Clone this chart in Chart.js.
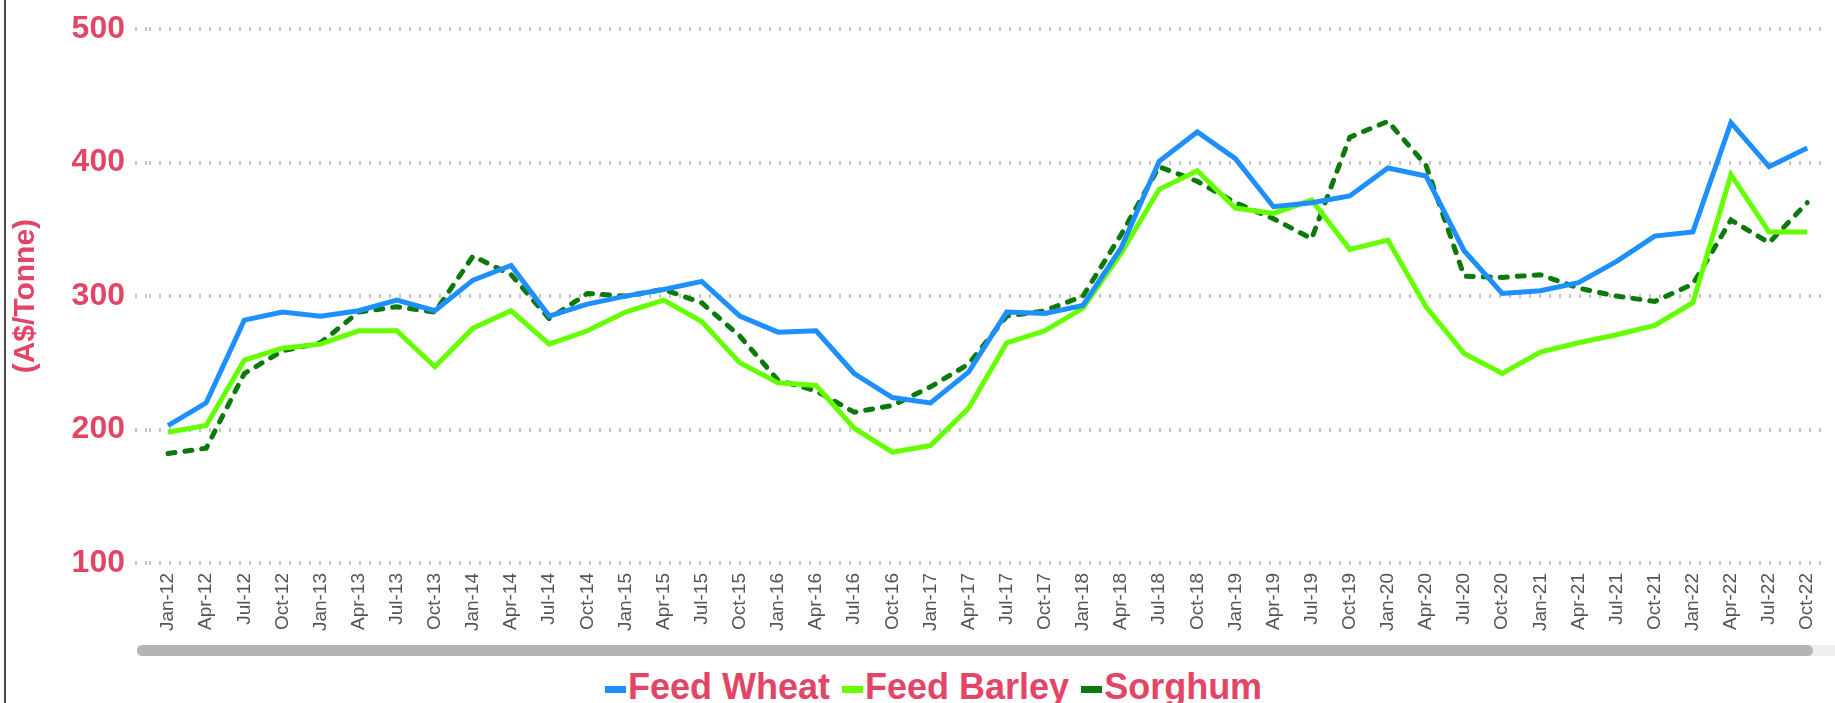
<!DOCTYPE html>
<html>
<head>
<meta charset="utf-8">
<script src="https://cdn.jsdelivr.net/npm/chart.js@4.4.1/dist/chart.umd.min.js"></script>
<style>
    html, body { margin: 0; padding: 0; background: #fff; overflow: hidden; }
    #page { position: relative; width: 1835px; height: 703px; overflow: hidden; }
    #edge { position: absolute; left: 4px; top: 0; width: 2px; height: 703px; background: #4a4a4a; }
    #chart-wrap { position: absolute; left: 0; top: 0; width: 1840px; height: 640px; }
    #track { position: absolute; left: 137px; top: 645px; width: 1700px; height: 11px; background: #efefef; }
    #thumb { position: absolute; left: 137px; top: 645px; width: 1676px; height: 11px; background: #b4b4b4; border-radius: 6px; }
    #legend { position: absolute; left: 605px; top: 666px; white-space: nowrap; line-height: 42px;
        font: bold 36px "Liberation Sans", Arial, sans-serif; color: #e24565; }
    #legend span.item { margin-right: 12px; }
    #legend i { display: inline-block; width: 21px; height: 7px; margin-right: 2px; vertical-align: middle; }
</style>
</head>
<body>
<div id="page">
    <div id="edge"></div>
    <div id="chart-wrap"><canvas id="priceChart"></canvas></div>
    <div id="track"></div>
    <div id="thumb"></div>
    <div id="legend"></div>
</div>
<script>
// Quarterly labels, Jan-12 .. Oct-22
const quarters = [
    'Jan-12', 'Apr-12', 'Jul-12', 'Oct-12', 'Jan-13', 'Apr-13', 'Jul-13', 'Oct-13',
    'Jan-14', 'Apr-14', 'Jul-14', 'Oct-14', 'Jan-15', 'Apr-15', 'Jul-15', 'Oct-15',
    'Jan-16', 'Apr-16', 'Jul-16', 'Oct-16', 'Jan-17', 'Apr-17', 'Jul-17', 'Oct-17',
    'Jan-18', 'Apr-18', 'Jul-18', 'Oct-18', 'Jan-19', 'Apr-19', 'Jul-19', 'Oct-19',
    'Jan-20', 'Apr-20', 'Jul-20', 'Oct-20', 'Jan-21', 'Apr-21', 'Jul-21', 'Oct-21',
    'Jan-22', 'Apr-22', 'Jul-22', 'Oct-22'
];

// A$/Tonne
const feedWheat = [
    203, 220, 282, 288, 285, 289, 297, 289, 312, 323, 285, 294, 300, 305, 311, 285,
    273, 274, 242, 224, 220, 243, 288, 287, 293, 336, 401, 423, 403, 367, 370, 375,
    396, 390, 334, 302, 304, 310, 326, 345, 348, 430, 397, 411
];
const feedBarley = [
    198, 203, 252, 261, 264, 274, 274, 247, 276, 289, 264, 274, 288, 297, 281, 250,
    235, 233, 201, 183, 188, 216, 265, 274, 291, 332, 380, 394, 366, 362, 372, 335,
    342, 292, 257, 242, 258, 265, 271, 278, 295, 391, 348, 348
];
const sorghum = [
    182, 186, 242, 259, 265, 288, 292, 288, 330, 316, 283, 302, 300, 305, 295, 270,
    237, 229, 213, 218, 232, 249, 285, 289, 300, 346, 397, 386, 370, 358, 343, 419,
    431, 398, 315, 314, 316, 306, 300, 296, 309, 357, 340, 370
];

const yTicks = [100, 200, 300, 400, 500];
const seriesNames = ['Feed Wheat', 'Feed Barley', 'Sorghum'];
const seriesColors = ['#1e8fff', '#66ff00', '#0b7a0b'];

const labelRed = '#e24565';
const gridGrey = '#c4c4c4';
const fontFamily = '"Liberation Sans", Arial, sans-serif';

// HTML legend (marker sits right against the text)
const legendEl = document.getElementById('legend');
seriesNames.forEach((name, i) => {
    const item = document.createElement('span');
    item.className = 'item';
    const mark = document.createElement('i');
    mark.style.background = seriesColors[i];
    item.appendChild(mark);
    item.appendChild(document.createTextNode(name));
    legendEl.appendChild(item);
});

const ctx = document.getElementById('priceChart').getContext('2d');

new Chart(ctx, {
    type: 'line',
    data: {
        labels: quarters,
        datasets: [
            {
                label: seriesNames[0],
                data: feedWheat,
                borderColor: seriesColors[0],
                borderWidth: 5,
                pointRadius: 0,
                tension: 0,
                fill: false
            },
            {
                label: seriesNames[1],
                data: feedBarley,
                borderColor: seriesColors[1],
                borderWidth: 5,
                pointRadius: 0,
                tension: 0,
                fill: false
            },
            {
                label: seriesNames[2],
                data: sorghum,
                borderColor: seriesColors[2],
                borderWidth: 5,
                borderDash: [7, 10],
                borderCapStyle: 'round',
                pointRadius: 0,
                tension: 0,
                fill: false
            }
        ]
    },
    options: {
        responsive: true,
        maintainAspectRatio: false,
        animation: false,
        layout: { padding: { top: 17, right: 0, bottom: 0, left: 0 } },
        plugins: {
            legend: { display: false },
            tooltip: { enabled: false }
        },
        scales: {
            x: {
                offset: true,
                grid: { display: false, drawTicks: false },
                border: { display: false },
                ticks: {
                    autoSkip: false,
                    maxRotation: 90,
                    minRotation: 90,
                    padding: 10,
                    color: '#555',
                    font: { family: fontFamily, size: 19 }
                },
                afterFit: (scale) => { scale.height = 77; }
            },
            y: {
                min: 100,
                max: 500,
                afterBuildTicks: (scale) => { scale.ticks = yTicks.map(v => ({ value: v })); },
                grid: {
                    color: gridGrey,
                    lineWidth: 4,
                    drawTicks: true,
                    tickLength: 14,
                    tickColor: gridGrey,
                    tickWidth: 4,
                    tickBorderDash: [2, 8]
                },
                border: { display: false, dash: [2, 8] },
                ticks: {
                    padding: 10,
                    color: labelRed,
                    font: { family: fontFamily, size: 32, weight: 'bold' }
                },
                title: {
                    display: true,
                    text: '(A$/Tonne)',
                    color: labelRed,
                    padding: { top: 8, bottom: 0 },
                    font: { family: fontFamily, size: 30, weight: 'bold' }
                },
                afterFit: (scale) => { scale.width = 149; }
            }
        }
    }
});
</script>
</body>
</html>
